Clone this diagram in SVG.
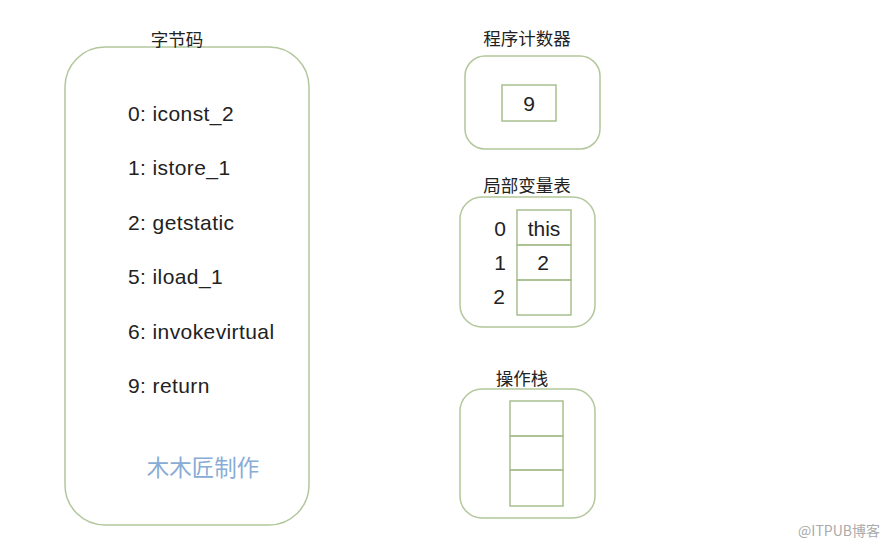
<svg xmlns="http://www.w3.org/2000/svg" width="890" height="546" viewBox="0 0 890 546">
<style>
.box{fill:none;stroke:#b3c79c;stroke-width:1.5}
.cell{fill:none;stroke:#a8bf8e;stroke-width:1.5}
.title{font-family:"Noto Sans CJK SC","Noto Sans",sans-serif;font-size:17.5px;fill:#222;text-anchor:middle}
.code{font-family:"Liberation Sans","Noto Sans",sans-serif;font-size:21px;letter-spacing:0.4px;fill:#222}
.val{font-family:"Liberation Sans","Noto Sans",sans-serif;font-size:21px;fill:#222;text-anchor:middle}
</style>
<rect width="890" height="546" fill="#fff"/>
<g id="bytecode">
<rect class="box" x="65" y="47" width="244" height="478" rx="40"/>
<text class="title" x="177" y="46">字节码</text>
<text class="code" x="128" y="121">0: iconst_2</text>
<text class="code" x="128" y="175">1: istore_1</text>
<text class="code" x="128" y="230">2: getstatic</text>
<text class="code" x="128" y="284">5: iload_1</text>
<text class="code" x="128" y="339">6: invokevirtual</text>
<text class="code" x="128" y="393">9: return</text>
<text x="203" y="476" text-anchor="middle" font-family="Noto Sans CJK SC,sans-serif" font-size="22.5" fill="#88acd6">木木匠制作</text>
</g>
<g id="pc">
<text class="title" x="527" y="45">程序计数器</text>
<rect class="box" x="465" y="56" width="135" height="93" rx="20"/>
<rect class="cell" x="502" y="85" width="54" height="36"/>
<text class="val" x="529" y="111">9</text>
</g>
<g id="locals">
<text class="title" x="527" y="192">局部变量表</text>
<rect class="box" x="460" y="197" width="135" height="130" rx="22"/>
<rect class="cell" x="517" y="210" width="54" height="35"/>
<rect class="cell" x="517" y="245" width="54" height="35"/>
<rect class="cell" x="517" y="280" width="54" height="35"/>
<text class="val" x="500" y="236">0</text>
<text class="val" x="500" y="270">1</text>
<text class="val" x="499" y="304">2</text>
<text class="val" x="544" y="236">this</text>
<text class="val" x="543" y="270">2</text>
</g>
<g id="stack">
<text class="title" x="522" y="385">操作栈</text>
<rect class="box" x="460" y="389" width="135" height="129" rx="22"/>
<rect class="cell" x="510" y="401" width="53" height="35"/>
<rect class="cell" x="510" y="436" width="53" height="34"/>
<rect class="cell" x="510" y="470" width="53" height="36"/>
</g>
<g id="connectors"/>
<text x="880" y="536" text-anchor="end" font-family="Noto Sans CJK SC,sans-serif" font-size="14" fill="#aaa">@ITPUB博客</text>
</svg>
